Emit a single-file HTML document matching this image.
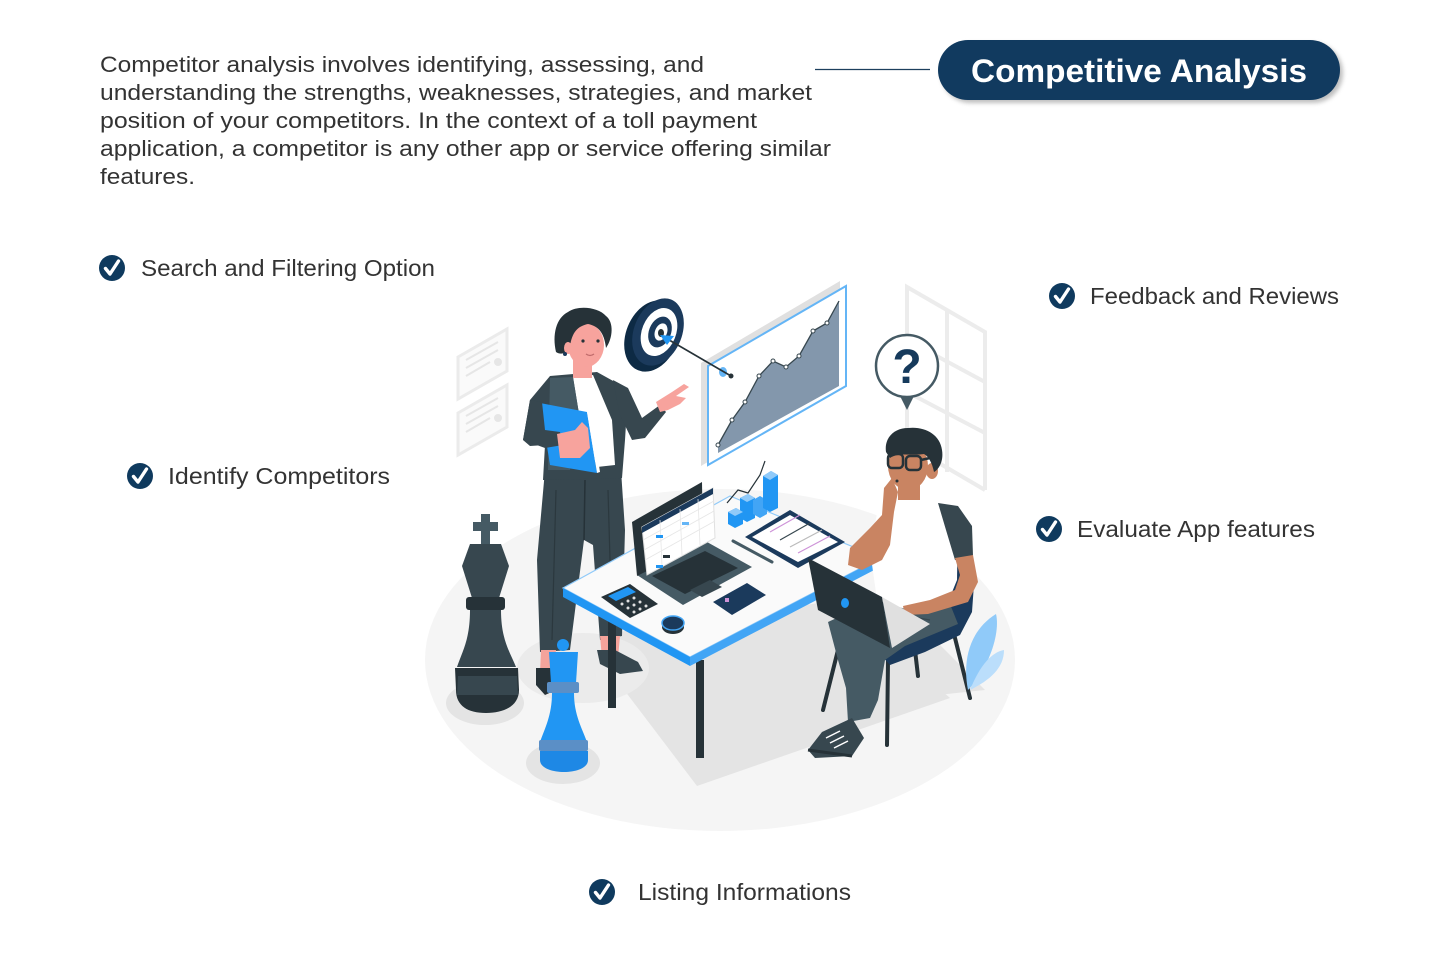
<!DOCTYPE html>
<html><head><meta charset="utf-8"><style>
html,body{margin:0;padding:0;background:#fff;}
svg{display:block;}
</style></head><body>
<svg width="1440" height="968" viewBox="0 0 1440 968" xmlns="http://www.w3.org/2000/svg">
<defs>
<filter id="sh" x="-10%" y="-30%" width="130%" height="170%"><feGaussianBlur stdDeviation="2"/></filter>
</defs>
<rect width="1440" height="968" fill="#fff"/>

<!-- paragraph -->
<g font-family="Liberation Sans, Arial, sans-serif" font-size="22.5" fill="#333">
<text x="100" y="72" textLength="604" lengthAdjust="spacingAndGlyphs">Competitor analysis involves identifying, assessing, and</text>
<text x="100" y="100" textLength="712" lengthAdjust="spacingAndGlyphs">understanding the strengths, weaknesses, strategies, and market</text>
<text x="100" y="128" textLength="657" lengthAdjust="spacingAndGlyphs">position of your competitors. In the context of a toll payment</text>
<text x="100" y="156" textLength="731" lengthAdjust="spacingAndGlyphs">application, a competitor is any other app or service offering similar</text>
<text x="100" y="184" textLength="95" lengthAdjust="spacingAndGlyphs">features.</text>
</g>

<!-- connector + title -->
<line x1="815" y1="69.5" x2="930" y2="69.5" stroke="#1d3f5e" stroke-width="1.3"/>
<rect x="941" y="43" width="402" height="60" rx="30" fill="#8a8a8a" opacity="0.55" filter="url(#sh)"/>
<rect x="938" y="40" width="402" height="60" rx="30" fill="#113a5f"/>
<text x="971" y="82" font-family="Liberation Sans, Arial, sans-serif" font-size="32" font-weight="bold" fill="#fff" textLength="336" lengthAdjust="spacingAndGlyphs">Competitive Analysis</text>

<!-- check items -->
<g id="checks">
<circle cx="112" cy="268" r="13" fill="#0f3a5e"/>
<path d="M105.5 268.5 L110 274 L118.5 261" fill="none" stroke="#fff" stroke-width="3.4" stroke-linecap="round" stroke-linejoin="round"/>
<circle cx="1062" cy="296" r="13" fill="#0f3a5e"/>
<path d="M1055.5 296.5 L1060 302 L1068.5 289" fill="none" stroke="#fff" stroke-width="3.4" stroke-linecap="round" stroke-linejoin="round"/>
<circle cx="140" cy="476" r="13" fill="#0f3a5e"/>
<path d="M133.5 476.5 L138 482 L146.5 469" fill="none" stroke="#fff" stroke-width="3.4" stroke-linecap="round" stroke-linejoin="round"/>
<circle cx="1049" cy="529" r="13" fill="#0f3a5e"/>
<path d="M1042.5 529.5 L1047 535 L1055.5 522" fill="none" stroke="#fff" stroke-width="3.4" stroke-linecap="round" stroke-linejoin="round"/>
<circle cx="602" cy="892" r="13" fill="#0f3a5e"/>
<path d="M595.5 892.5 L600 898 L608.5 885" fill="none" stroke="#fff" stroke-width="3.4" stroke-linecap="round" stroke-linejoin="round"/>
</g>
<g font-family="Liberation Sans, Arial, sans-serif" font-size="23" fill="#333">
<text x="141" y="276" textLength="294" lengthAdjust="spacingAndGlyphs">Search and Filtering Option</text>
<text x="1090" y="304" textLength="249" lengthAdjust="spacingAndGlyphs">Feedback and Reviews</text>
<text x="168" y="484" textLength="222" lengthAdjust="spacingAndGlyphs">Identify Competitors</text>
<text x="1077" y="537" textLength="238" lengthAdjust="spacingAndGlyphs">Evaluate App features</text>
<text x="638" y="900" textLength="213" lengthAdjust="spacingAndGlyphs">Listing Informations</text>
</g>

<!-- ============ ILLUSTRATION ============ -->
<!-- floor ellipse -->
<ellipse cx="720" cy="660" rx="295" ry="171" fill="#f5f5f5"/>

<!-- certificates -->
<g fill="#fafafa" stroke="#ebebeb" stroke-width="3">
<polygon points="458,357 507,329 507,371 458,399"/>
<polygon points="458,413 507,385 507,427 458,455"/>
</g>
<g stroke="#e6e6e6" stroke-width="2">
<line x1="466" y1="360" x2="498" y2="342"/><line x1="466" y1="368" x2="498" y2="350"/><line x1="466" y1="376" x2="490" y2="362"/>
<line x1="466" y1="416" x2="498" y2="398"/><line x1="466" y1="424" x2="498" y2="406"/><line x1="466" y1="432" x2="490" y2="418"/>
</g>
<circle cx="498" cy="362" r="4" fill="#e6e6e6"/><circle cx="498" cy="418" r="4" fill="#e6e6e6"/>

<!-- window -->
<g stroke="#ececec" stroke-width="4" fill="none">
<polyline points="907,460 907,287 985,332 985,490"/>
<line x1="947" y1="310" x2="947" y2="472"/>
<line x1="907" y1="340" x2="985" y2="382"/>
<line x1="907" y1="392" x2="985" y2="433"/>
<line x1="920" y1="452" x2="985" y2="490"/>
</g>

<!-- floor shadows -->
<polygon points="584,637 697,786 950,698 840,600" fill="#e4e4e4"/>
<polygon points="830,660 890,700 985,690 935,640" fill="#e4e4e4"/>
<ellipse cx="583" cy="668" rx="66" ry="35" fill="#ebebeb"/>
<ellipse cx="485" cy="703" rx="39" ry="22" fill="#e4e4e4"/>
<ellipse cx="563" cy="763" rx="37" ry="21" fill="#e4e4e4"/>

<!-- chart board -->
<polygon points="701,363 840,281 840,383 701,466" fill="#e0e0e0"/>
<polygon points="708,366 846,286 846,386 708,465" fill="#fff" stroke="#64b5f6" stroke-width="2"/>
<polygon points="718,445 732,420 745,402 759,376 773,361 786,367 799,356 813,331 827,323 839,301 839,386 718,453" fill="#8397ac"/>
<polyline points="718,445 732,420 745,402 759,376 773,361 786,367 799,356 813,331 827,323 839,301" fill="none" stroke="#37474f" stroke-width="1.3"/>
<g fill="#fff" stroke="#37474f" stroke-width="1">
<circle cx="718" cy="445" r="2"/><circle cx="732" cy="420" r="2"/><circle cx="745" cy="402" r="2"/><circle cx="759" cy="376" r="2"/><circle cx="773" cy="361" r="2"/><circle cx="786" cy="367" r="2"/><circle cx="799" cy="356" r="2"/><circle cx="813" cy="331" r="2"/><circle cx="827" cy="323" r="2"/>
</g>
<ellipse cx="723" cy="372" rx="4" ry="5" fill="#64b5f6"/>

<!-- target -->
<ellipse cx="652" cy="336" rx="26" ry="37" transform="rotate(22 652 336)" fill="#0d2a44"/>
<ellipse cx="658" cy="332" rx="24" ry="35" transform="rotate(22 658 332)" fill="#1b3a5c"/>
<ellipse cx="659" cy="332" rx="17" ry="25" transform="rotate(22 659 332)" fill="#fff"/>
<ellipse cx="660" cy="332" rx="11" ry="16" transform="rotate(22 660 332)" fill="#1b3a5c"/>
<ellipse cx="661" cy="332" rx="6" ry="9" transform="rotate(22 661 332)" fill="#fff"/>
<ellipse cx="661" cy="333" rx="3" ry="4" fill="#263238"/>
<line x1="664" y1="337" x2="731" y2="376" stroke="#263238" stroke-width="1.6"/>
<circle cx="731" cy="376" r="2.5" fill="#263238"/>
<polygon points="660,335 674,336 667,345" fill="#2196f3"/>

<!-- question bubble -->
<polygon points="899,394 915,394 907,410" fill="#455a64"/>
<circle cx="907" cy="366" r="31" fill="#fff" stroke="#455a64" stroke-width="2.5"/>
<text x="907" y="383" text-anchor="middle" font-family="Liberation Sans, Arial, sans-serif" font-size="48" font-weight="bold" fill="#163a5c">?</text>

<!-- woman -->
<!-- pants -->
<path d="M545,470 L621,470 L625,530 L622,636 L600,640 L593,545 L584,540 L570,650 L540,652 L537,560 Z" fill="#37474f"/>
<path d="M585,480 L584,540" stroke="#263238" stroke-width="1.5"/>
<path d="M556,490 L552,640" stroke="#2b383e" stroke-width="1.2"/>
<path d="M608,490 L612,630" stroke="#2b383e" stroke-width="1.2"/>
<!-- ankles -->
<polygon points="541,650 556,650 553,675 540,673" fill="#f4a39b"/>
<polygon points="600,636 620,636 618,658 602,658" fill="#f4a39b"/>
<!-- shoes -->
<path d="M536,668 L554,668 L556,690 L545,695 L536,685 Z" fill="#263238"/>
<path d="M597,650 L615,650 L638,662 L643,671 L620,674 L600,664 Z" fill="#37474f"/>
<!-- jacket body -->
<path d="M550,376 L597,372 L615,382 L628,392 L625,440 L622,478 L543,480 L545,445 L530,446 L523,440 L530,400 Z" fill="#37474f"/>
<!-- shirt -->
<polygon points="573,377 593,375 612,420 615,465 597,467 580,420" fill="#fff"/>
<!-- left lapel shading -->
<path d="M550,378 L573,377 L580,420 L570,470 L548,470 Z" fill="#455a64"/>
<!-- right arm -->
<path d="M613,380 L628,388 L642,418 L660,405 L666,412 L645,438 L632,440 L620,415 Z" fill="#37474f"/>
<path d="M656,402 L672,392 L684,384 L689,387 L676,396 L686,398 L680,404 L668,410 L660,412 Z" fill="#f7a39d"/>
<!-- neck -->
<rect x="573" y="358" width="19" height="20" fill="#f7a39d"/>
<!-- face -->
<ellipse cx="586" cy="345" rx="18" ry="22" fill="#f7a39d"/>
<!-- hair -->
<path d="M556,352 C552,335 556,318 568,312 C578,305 598,307 606,316 C614,322 613,338 606,348 C604,332 598,326 588,324 C578,326 572,332 570,346 C568,352 562,356 556,352 Z" fill="#263238"/>
<ellipse cx="568" cy="348" rx="4" ry="6" fill="#f7a39d"/>
<circle cx="565" cy="354" r="2" fill="#1b3a5c"/>
<circle cx="583" cy="341" r="1.6" fill="#263238"/>
<circle cx="598" cy="341" r="1.6" fill="#263238"/>
<path d="M586,354 Q590,357 594,354" stroke="#c06b6b" stroke-width="1.2" fill="none"/>
<!-- folder -->
<polygon points="540,403 587,412 597,473 550,465" fill="#2196f3"/>
<polygon points="587,412 591,413 600,472 597,473" fill="#fff"/>
<!-- left arm / hand -->
<path d="M530,400 L523,440 L545,448 L563,445 L560,432 L545,430 L542,402 Z" fill="#37474f"/>
<path d="M557,434 L575,430 L582,422 L588,428 L590,448 L580,458 L560,458 Z" fill="#f7a39d"/>

<!-- desk legs -->
<rect x="608" y="612" width="8" height="96" fill="#263238"/>
<rect x="696" y="660" width="8" height="98" fill="#263238"/>

<!-- desk top -->
<polygon points="563,588 730,496 880,558 690,657" fill="#fafafa" stroke="#90caf9" stroke-width="1.2"/>
<polygon points="563,588 690,657 690,666 563,597" fill="#2196f3"/>
<polygon points="690,657 880,558 880,567 690,666" fill="#42a5f5"/>

<!-- laptop -->
<polygon points="637,575 707,542 752,567 683,605" fill="#455a64"/>
<polygon points="652,576 705,551 738,568 685,594" fill="#263238"/>
<polygon points="690,590 710,580 722,587 702,597" fill="#37474f"/>
<polygon points="632,522 702,482 703,543 637,576" fill="#263238"/>
<polygon points="642,527 713,488 715,538 647,575" fill="#fff" stroke="#e0e0e0" stroke-width="1"/>
<polygon points="642,527 713,488 713,494 642,533" fill="#1b3a5c"/>
<g stroke="#e6e6e6" stroke-width="0.8">
<line x1="643" y1="540" x2="714" y2="501"/><line x1="644" y1="550" x2="714" y2="511"/><line x1="645" y1="560" x2="715" y2="521"/>
<line x1="660" y1="520" x2="662" y2="566"/><line x1="680" y1="509" x2="682" y2="555"/><line x1="698" y1="499" x2="700" y2="545"/>
</g>
<rect x="656" y="535" width="7" height="3" fill="#2196f3"/><rect x="682" y="522" width="7" height="3" fill="#64b5f6"/><rect x="663" y="555" width="7" height="3" fill="#263238"/><rect x="656" y="565" width="7" height="3" fill="#2196f3"/>

<!-- bar chart -->
<polyline points="727,503 738,490 748,493 760,475 765,461" fill="none" stroke="#263238" stroke-width="1.2"/>
<g>
<polygon points="728,512 736,508 743,512 743,524 735,528 728,524" fill="#2196f3"/>
<polygon points="740,498 748,494 755,498 755,518 747,522 740,518" fill="#2196f3"/>
<polygon points="753,500 760,496 767,500 767,514 760,518 753,514" fill="#42a5f5"/>
<polygon points="763,476 771,471 778,475 778,508 770,512 763,508" fill="#2196f3"/>
<polygon points="728,512 736,508 743,512 735,516" fill="#90caf9"/>
<polygon points="740,498 748,494 755,498 747,502" fill="#90caf9"/>
<polygon points="763,476 771,471 778,475 770,480" fill="#90caf9"/>
</g>
<!-- pen -->
<line x1="733" y1="541" x2="772" y2="562" stroke="#455a64" stroke-width="3" stroke-linecap="round"/>
<!-- tablet -->
<polygon points="745,537 790,510 845,542 798,568" fill="#1b3a5c"/>
<polygon points="752,537 790,515 838,542 798,562" fill="#fff"/>
<g stroke-width="1.2"><line x1="770" y1="532" x2="800" y2="515" stroke="#ce93d8"/><line x1="780" y1="540" x2="810" y2="523" stroke="#37474f"/><line x1="790" y1="547" x2="822" y2="530" stroke="#bbb"/><line x1="798" y1="553" x2="830" y2="536" stroke="#ce93d8"/></g>
<!-- calculator -->
<polygon points="601,597 630,584 658,604 630,618" fill="#263238"/>
<polygon points="608,596 628,587 636,592 616,601" fill="#2196f3"/>
<g fill="#e0e0e0"><circle cx="622" cy="604" r="1.5"/><circle cx="628" cy="601" r="1.5"/><circle cx="634" cy="598" r="1.5"/><circle cx="628" cy="608" r="1.5"/><circle cx="634" cy="605" r="1.5"/><circle cx="640" cy="602" r="1.5"/><circle cx="634" cy="612" r="1.5"/><circle cx="640" cy="609" r="1.5"/><circle cx="646" cy="606" r="1.5"/></g>
<!-- card -->
<polygon points="713,602 747,583 766,595 732,615" fill="#1b3a5c"/>
<rect x="725" y="598" width="4" height="4" fill="#ce93d8"/>
<!-- coin -->
<ellipse cx="673" cy="627" rx="11" ry="7" fill="#263238"/>
<ellipse cx="673" cy="623" rx="11" ry="7" fill="#1b3a5c" stroke="#42a5f5" stroke-width="1.5"/>

<!-- man: chair -->
<g stroke="#263238" stroke-width="4" stroke-linecap="round">
<line x1="888" y1="660" x2="887" y2="745"/>
<line x1="953" y1="630" x2="970" y2="698"/>
<line x1="838" y1="650" x2="823" y2="710"/>
<line x1="915" y1="650" x2="918" y2="676"/>
</g>
<path d="M948,518 L968,532 L975,570 L972,612 L960,635 L925,652 L890,665 L878,652 L915,632 L950,612 Z" fill="#1b3a5c"/>

<!-- man: pants -->
<path d="M828,622 L880,598 L950,604 L958,624 L905,646 L885,660 L878,700 L870,718 L848,722 L846,688 L838,660 Z" fill="#455a64"/>
<path d="M870,610 L930,620" stroke="#37474f" stroke-width="1.2"/>
<!-- shoe -->
<path d="M822,732 L852,718 L864,738 L852,756 L815,758 L808,750 Z" fill="#37474f"/>
<path d="M808,750 L852,756" stroke="#263238" stroke-width="3"/>
<g stroke="#fff" stroke-width="1.5"><line x1="826" y1="738" x2="840" y2="731"/><line x1="830" y1="743" x2="844" y2="736"/><line x1="834" y1="748" x2="848" y2="741"/></g>
<!-- torso -->
<path d="M880,498 L940,500 L958,520 L957,580 L946,607 L905,609 L877,600 L870,550 Z" fill="#fff"/>
<path d="M938,503 L958,506 L972,526 L973,556 L955,560 L946,530 Z" fill="#37474f"/>
<!-- right arm -->
<path d="M955,558 L973,555 L978,582 L968,602 L928,614 L905,615 L903,606 L930,600 L955,590 L960,575 Z" fill="#c98462"/>
<!-- left arm -->
<path d="M882,515 L870,528 L850,548 L848,565 L862,570 L882,560 L890,545 L894,512 L898,492 L892,478 L884,488 Z" fill="#c98462"/>
<!-- neck -->
<rect x="898" y="482" width="22" height="18" fill="#c98462"/>
<!-- face -->
<ellipse cx="908" cy="466" rx="20" ry="24" fill="#c98462"/>
<ellipse cx="932" cy="471" rx="6" ry="8" fill="#c98462"/>
<path d="M886,452 C884,438 894,428 908,428 C924,426 940,434 942,450 C944,462 938,470 934,472 C932,462 928,456 924,454 C912,456 898,452 890,458 Z" fill="#263238"/>
<g fill="none" stroke="#263238" stroke-width="2.5">
<rect x="888" y="454" width="15" height="14" rx="4"/>
<rect x="906" y="456" width="15" height="14" rx="4"/>
<line x1="921" y1="460" x2="930" y2="458"/>
</g>
<circle cx="897" cy="481" r="1.5" fill="#263238"/>
<!-- laptop on lap -->
<polygon points="882,597 930,624 892,648" fill="#e0e0e0"/>
<polygon points="808,558 882,597 890,648 818,610" fill="#263238"/>
<ellipse cx="845" cy="603" rx="4" ry="5" fill="#2196f3"/>

<!-- plant -->
<path d="M968,690 C962,660 970,630 996,614 C1000,630 992,664 968,690 Z" fill="#90caf9"/>
<path d="M970,690 C980,665 992,652 1004,650 C1004,668 990,680 970,690 Z" fill="#bbdefb"/>

<!-- chess king -->
<g>
<rect x="481" y="514" width="9" height="30" fill="#455a64"/>
<rect x="473" y="522" width="25" height="9" fill="#455a64"/>
<path d="M470,544 L501,544 L509,566 L499,598 L472,598 L462,566 Z" fill="#37474f"/>
<rect x="466" y="597" width="39" height="13" rx="3" fill="#263238"/>
<path d="M470,610 L501,610 C501,640 510,652 516,667 L457,667 C462,652 470,640 470,610 Z" fill="#37474f"/>
<path d="M455,668 L518,668 L519,690 C519,706 504,713 486,713 C468,713 456,706 456,690 Z" fill="#263238"/>
<path d="M458,676 L517,676 L518,695 L457,695 Z" fill="#37474f"/>
</g>
<!-- chess queen -->
<g>
<circle cx="563" cy="645" r="6" fill="#2196f3"/>
<path d="M549,652 L578,652 L576,683 L551,683 Z" fill="#2196f3"/>
<rect x="547" y="682" width="32" height="11" rx="2" fill="#5b8fc6"/>
<path d="M552,693 L574,693 C574,715 582,728 587,742 L540,742 C545,728 552,715 552,693 Z" fill="#2196f3"/>
<rect x="539" y="740" width="49" height="11" rx="2" fill="#5b8fc6"/>
<path d="M540,751 L588,751 L588,760 C588,768 576,772 564,772 C552,772 540,768 540,760 Z" fill="#1e88e5"/>
</g>
</svg>
</body></html>
